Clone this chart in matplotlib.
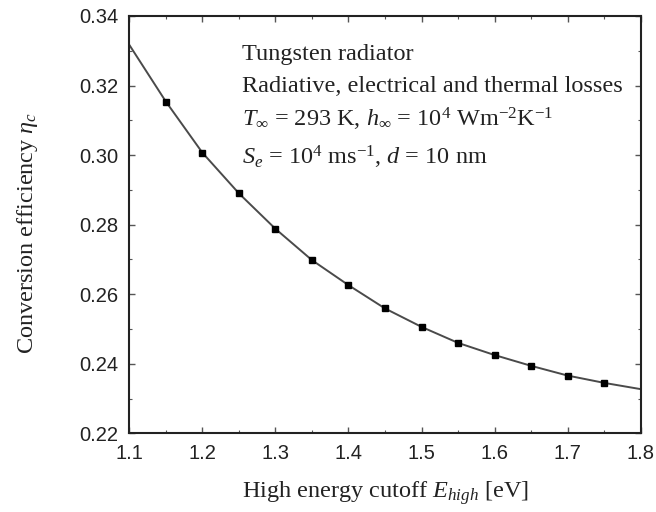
import matplotlib
matplotlib.use("Agg")
import matplotlib.pyplot as plt
from matplotlib.ticker import MultipleLocator

plt.rcParams["mathtext.fontset"] = "custom"
plt.rcParams["mathtext.rm"] = "Liberation Serif"
plt.rcParams["mathtext.it"] = "Liberation Serif:italic"
plt.rcParams["mathtext.bf"] = "Liberation Serif:bold"

# High energy cutoff (eV) and conversion efficiency
e_high = [1.10, 1.15, 1.20, 1.25, 1.30, 1.35, 1.40, 1.45, 1.50,
          1.55, 1.60, 1.65, 1.70, 1.75, 1.80]
efficiency = [0.3317, 0.3154, 0.3007, 0.2890, 0.2788, 0.2698, 0.2626, 0.2559,
              0.2506, 0.2460, 0.2425, 0.2394, 0.2366, 0.2345, 0.2327]

x_ticks = [1.1, 1.2, 1.3, 1.4, 1.5, 1.6, 1.7, 1.8]
y_ticks = [0.22, 0.24, 0.26, 0.28, 0.30, 0.32, 0.34]

serif = "Liberation Serif"
sans = "Liberation Sans"

fig = plt.figure(figsize=(6.56, 5.12), dpi=100)
ax = fig.add_axes([0.1971, 0.1537, 0.7796, 0.8151])

ax.plot(e_high, efficiency, color="#4a4a4a", lw=1.4,
        marker="s", ms=5, mfc="black", mec="black",
        markevery=list(range(1, len(e_high) - 1)))

ax.set_xlim(1.1, 1.8)
ax.set_ylim(0.22, 0.34)
ax.set_xticks(x_ticks)
ax.set_yticks(y_ticks)
ax.set_xticklabels([f"{v:.1f}" for v in x_ticks], family=sans, fontsize=14.5,
                   color="#222222")
ax.set_yticklabels([f"{v:.2f}" for v in y_ticks], family=sans, fontsize=14.5,
                   color="#222222")
ax.xaxis.set_minor_locator(MultipleLocator(0.05))
ax.yaxis.set_minor_locator(MultipleLocator(0.01))
ax.tick_params(which="both", direction="in", top=True, right=True,
               color="#555555")
ax.tick_params(which="major", length=4, width=1, pad=8)
ax.tick_params(which="minor", length=2.5, width=0.8)
for s in ax.spines.values():
    s.set_linewidth(1.5)
    s.set_color("#222222")

ax.set_xlabel(r"High energy cutoff $E_{high}$ [eV]", family=serif,
              fontsize=17.5, color="#222222")
ax.set_ylabel(r"Conversion efficiency $\eta_c$", family=serif,
              fontsize=17.5, color="#222222")
ax.xaxis.set_label_coords(0.5, -0.11)
ax.yaxis.set_label_coords(-0.174, 0.48)

info = [
    "Tungsten radiator",
    "Radiative, electrical and thermal losses",
    r"$T_\infty$ = 293 K, $h_\infty$ = 10$^4$ Wm$^{-2}$K$^{-1}$",
    r"$S_e$ = 10$^4$ ms$^{-1}$, $d$ = 10 nm",
]
baselines = [0.8946, 0.8179, 0.7344, 0.643]
for t, yy in zip(info, baselines):
    ax.text(0.2198, yy, t, transform=ax.transAxes, family=serif,
            fontsize=17.5, color="#222222", va="baseline", ha="left")

fig.savefig("out.png", dpi=100)
